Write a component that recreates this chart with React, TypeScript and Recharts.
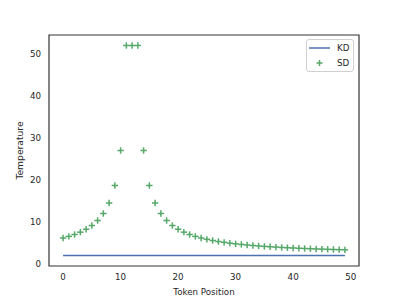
import React from "react"
import {
    ComposedChart,
    Line,
    Scatter,
    XAxis,
    YAxis,
    Legend,
    ReferenceArea,
} from "recharts"

// token positions 0..49
const positions = [
    0, 1, 2, 3, 4, 5, 6, 7, 8, 9,
    10, 11, 12, 13, 14, 15, 16, 17, 18, 19,
    20, 21, 22, 23, 24, 25, 26, 27, 28, 29,
    30, 31, 32, 33, 34, 35, 36, 37, 38, 39,
    40, 41, 42, 43, 44, 45, 46, 47, 48, 49,
]

const kdTemps = [
    2, 2, 2, 2, 2, 2, 2, 2, 2, 2,
    2, 2, 2, 2, 2, 2, 2, 2, 2, 2,
    2, 2, 2, 2, 2, 2, 2, 2, 2, 2,
    2, 2, 2, 2, 2, 2, 2, 2, 2, 2,
    2, 2, 2, 2, 2, 2, 2, 2, 2, 2,
]

const sdTemps = [
    6.17, 6.55, 7.0, 7.56, 8.25, 9.14, 10.33, 12.0, 14.5, 18.67,
    27.0, 52.0, 52.0, 52.0, 27.0, 18.67, 14.5, 12.0, 10.33, 9.14,
    8.25, 7.56, 7.0, 6.55, 6.17, 5.85, 5.57, 5.33, 5.13, 4.94,
    4.78, 4.63, 4.5, 4.38, 4.27, 4.17, 4.08, 4.0, 3.92, 3.85,
    3.79, 3.72, 3.67, 3.61, 3.56, 3.52, 3.47, 3.43, 3.39, 3.35,
]

const xTicks = [0, 10, 20, 30, 40, 50]
const yTicks = [0, 10, 20, 30, 40, 50]

const BLUE = "#4c72b0"
const GREEN = "#55a868"
const TEXT = "#262626"
const FONT = "'DejaVu Sans', sans-serif"

const data = positions.map((x, i) => ({ x, kd: kdTemps[i], sd: sdTemps[i] }))

const PlusMarker = (props: any) => {
    const { cx, cy } = props
    if (cx == null || cy == null) return null
    const r = 3.2
    return (
        <g stroke={GREEN} strokeWidth={1.5}>
            <line x1={cx - r} y1={cy} x2={cx + r} y2={cy} />
            <line x1={cx} y1={cy - r} x2={cx} y2={cy + r} />
        </g>
    )
}

const LegendBox = () => (
    <div
        style={{
            width: 48,
            height: 33,
            boxSizing: "border-box",
            border: "1px solid #d0d0d0",
            borderRadius: 3,
            background: "rgba(255,255,255,0.8)",
            fontFamily: FONT,
            fontSize: 8.7,
            color: TEXT,
            position: "relative",
        }}
    >
        <svg width={48} height={33} style={{ position: "absolute", left: -1, top: -1 }}>
            <line x1={3} y1={9} x2={24} y2={9} stroke={BLUE} strokeWidth={1.5} />
            <g stroke={GREEN} strokeWidth={1.5}>
                <line x1={10.5} y1={24} x2={16.5} y2={24} />
                <line x1={13.5} y1={21} x2={13.5} y2={27} />
            </g>
            <text x={31} y={12.2} fontSize={8.7} fill={TEXT} fontFamily={FONT}>KD</text>
            <text x={31} y={27.2} fontSize={8.7} fill={TEXT} fontFamily={FONT}>SD</text>
        </svg>
    </div>
)

export default function App() {
    return (
        <div style={{ position: "absolute", left: 0, top: 0, width: 399, height: 299, background: "#fff" }}>
            <ComposedChart
                width={399}
                height={299}
                data={data}
                margin={{ top: 35, right: 40, bottom: 0, left: 0 }}
            >
                <XAxis
                    dataKey="x"
                    type="number"
                    domain={[-2.45, 51.45]}
                    ticks={xTicks}
                    allowDataOverflow
                    tickLine={false}
                    axisLine={false}
                    height={33}
                    tick={{ fill: TEXT, fontSize: 8.7, fontFamily: FONT }}
                    label={{
                        value: "Token Position",
                        position: "insideBottom",
                        offset: 4,
                        style: { fill: TEXT, fontSize: 8.7, fontFamily: FONT },
                    }}
                />
                <YAxis
                    type="number"
                    domain={[-0.5, 54.5]}
                    ticks={yTicks}
                    allowDataOverflow
                    tickLine={false}
                    axisLine={false}
                    width={49}
                    tick={{ fill: TEXT, fontSize: 8.7, fontFamily: FONT }}
                    label={{
                        value: "Temperature",
                        angle: -90,
                        position: "insideLeft",
                        offset: 20,
                        style: { fill: TEXT, fontSize: 9.2, fontFamily: FONT, textAnchor: "middle" },
                    }}
                />
                <ReferenceArea
                    x1={-2.45}
                    x2={51.45}
                    y1={-0.5}
                    y2={54.5}
                    fill="none"
                    stroke="#333333"
                    strokeWidth={1.2}
                    fillOpacity={0}
                    ifOverflow="visible"
                />
                <Line
                    dataKey="kd"
                    name="KD"
                    stroke={BLUE}
                    strokeWidth={1.5}
                    dot={false}
                    isAnimationActive={false}
                />
                <Scatter
                    dataKey="sd"
                    name="SD"
                    fill={GREEN}
                    shape={PlusMarker}
                    isAnimationActive={false}
                />
                <Legend
                    layout="vertical"
                    align="center"
                    verticalAlign="middle"
                    content={LegendBox}
                    wrapperStyle={{ left: 306, top: 39, width: 48, height: 33 }}
                />
            </ComposedChart>
        </div>
    )
}
